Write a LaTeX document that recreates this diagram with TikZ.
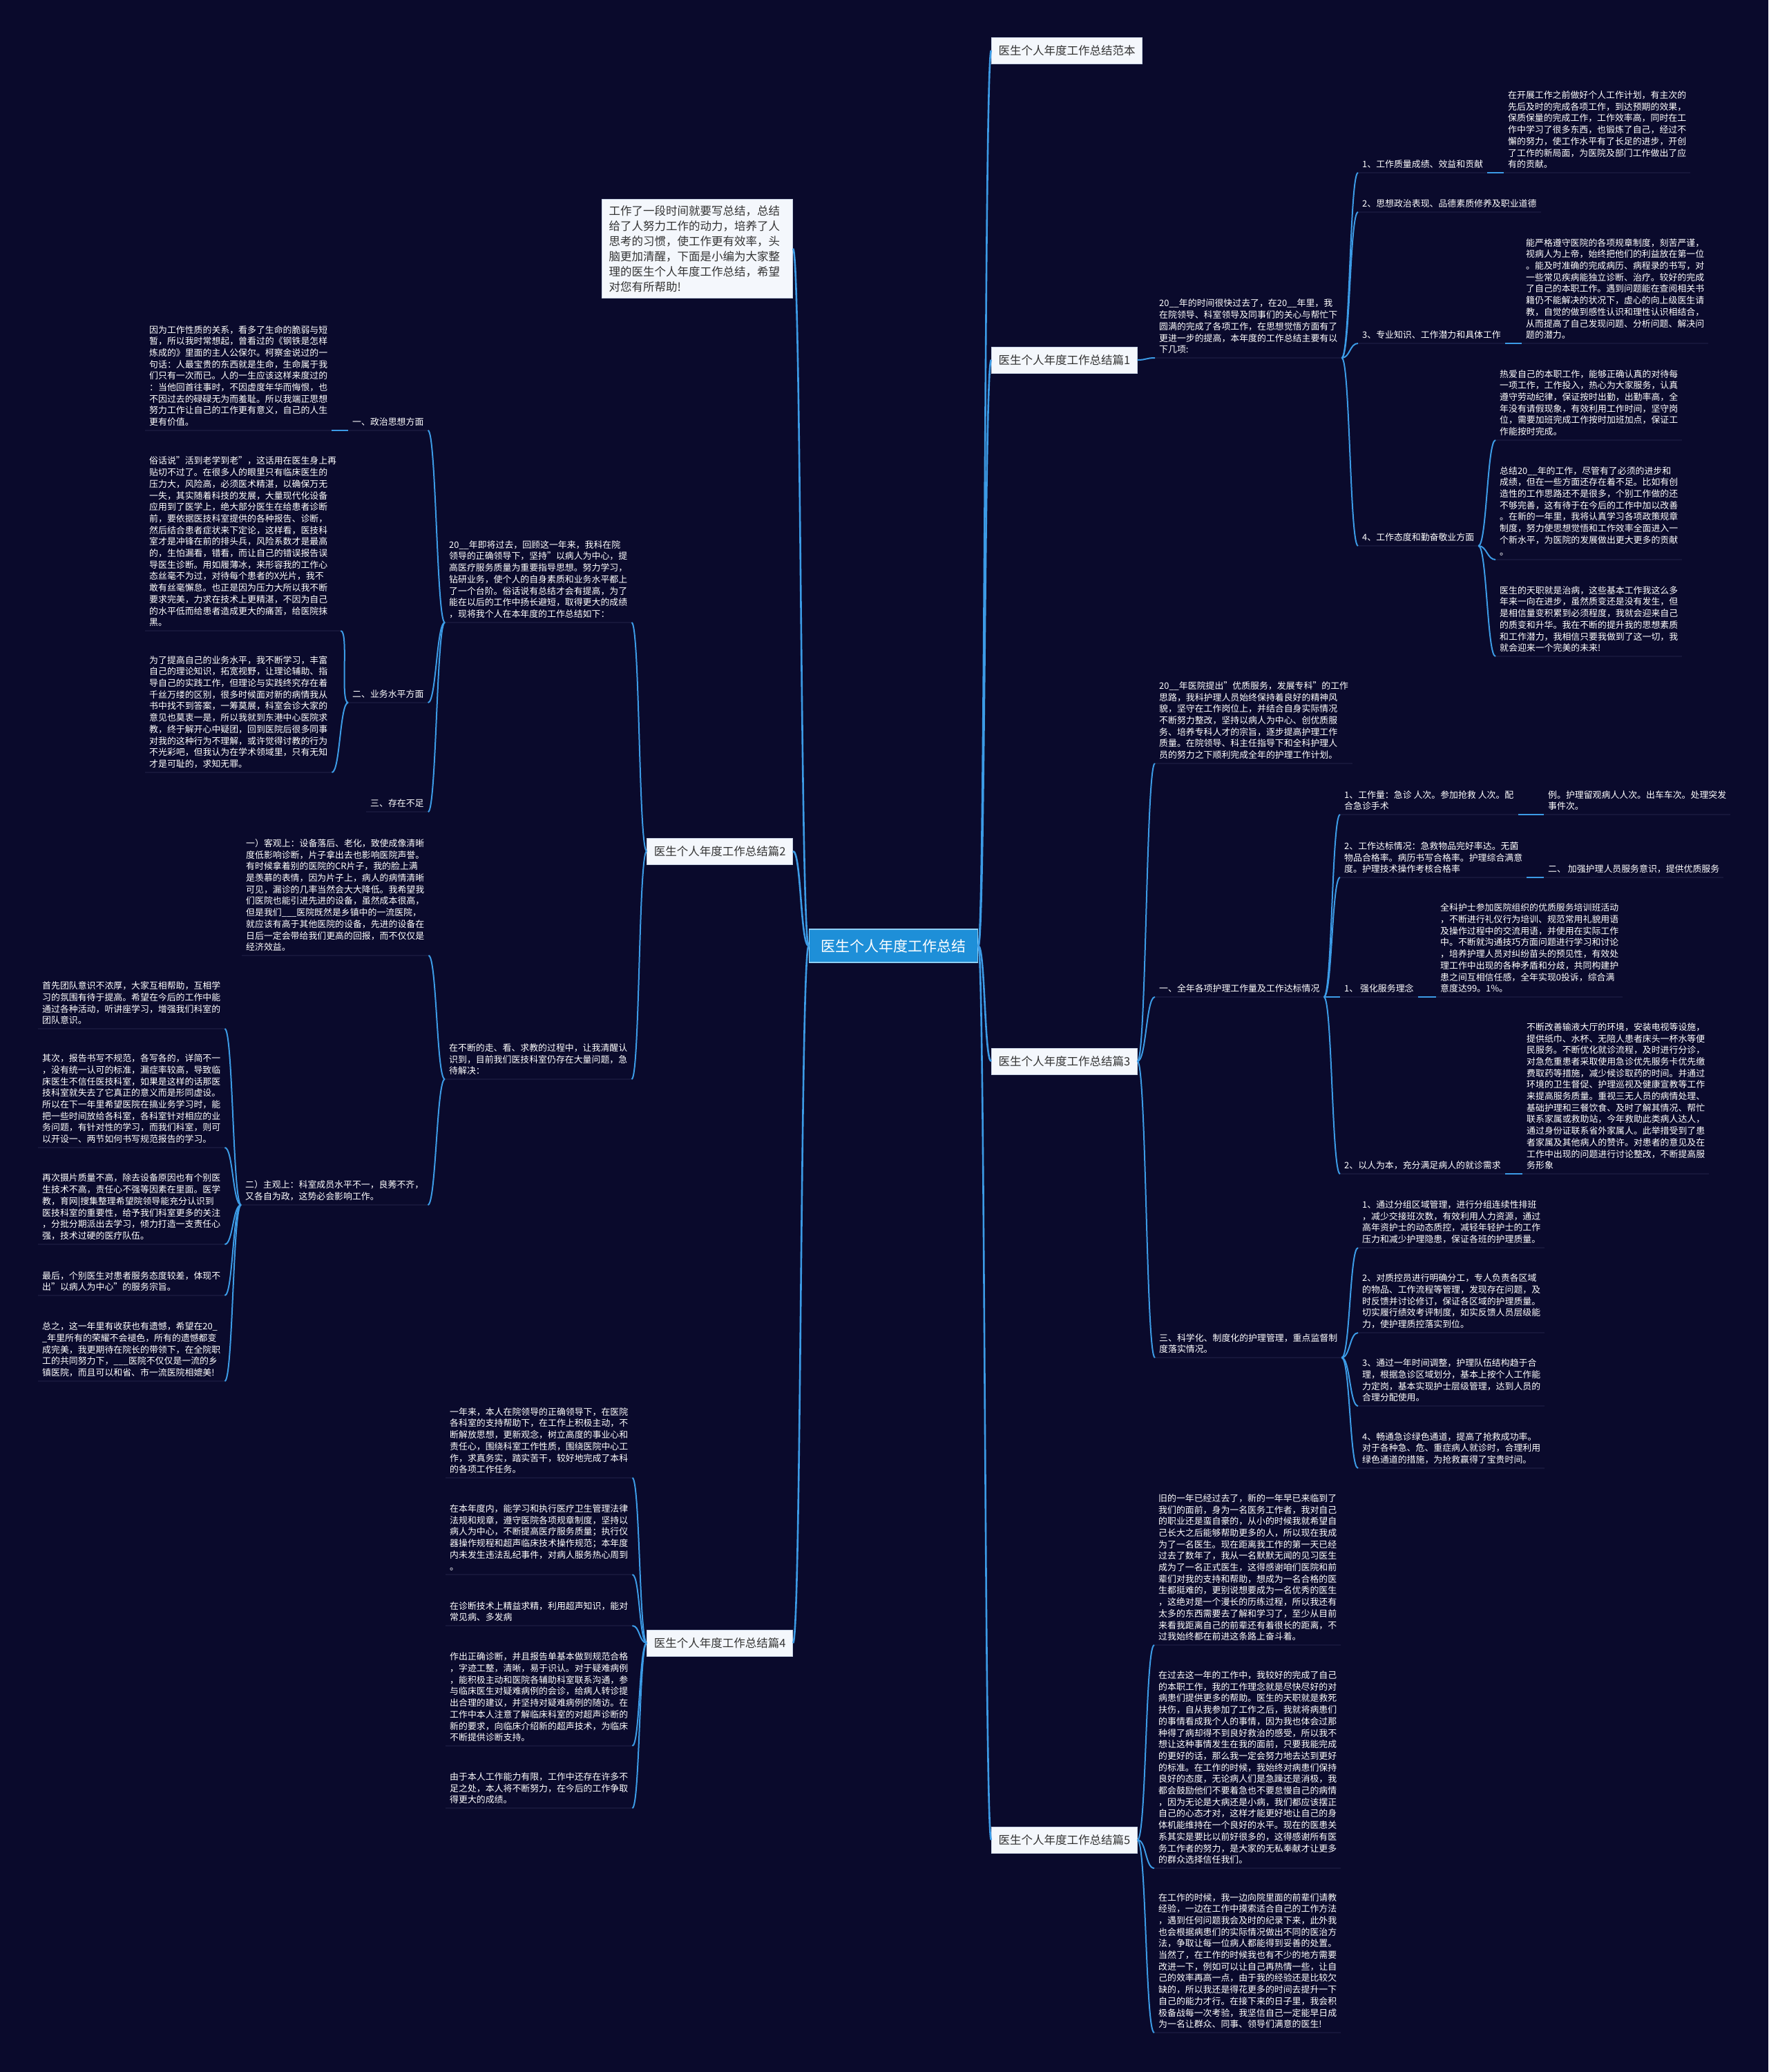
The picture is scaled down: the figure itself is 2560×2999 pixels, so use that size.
\documentclass[tikz,border=0pt]{standalone}
\usepackage{fontspec}
\setmainfont{Noto Sans CJK SC}
\definecolor{bgc}{HTML}{0A0A2C}
\definecolor{lnc}{HTML}{3C9BE6}
\definecolor{ulc}{HTML}{16163A}
\definecolor{boxfill}{HTML}{F4F7FC}
\definecolor{boxline}{HTML}{C8D3E6}
\definecolor{boxtext}{HTML}{333333}
\definecolor{cfill}{HTML}{1E8FD8}
\definecolor{cline}{HTML}{8ECFF5}
\newcommand\fp{\fontsize{12.9pt}{16.7pt}\selectfont}
\newcommand\fb{\fontsize{16.5pt}{22pt}\selectfont}
\newcommand\fc{\fontsize{21pt}{26pt}\selectfont}
\begin{document}
\begin{tikzpicture}[x=1pt,y=-1pt,
  tx/.style={anchor=south west,text=white,font=\fp,align=left,inner xsep=6pt,inner ysep=6pt},
  bx/.style={fill=boxfill,draw=boxline,line width=1pt,text=boxtext,font=\fb,inner xsep=10pt,inner ysep=6pt,minimum height=38pt},
  ibx/.style={fill=boxfill,draw=boxline,line width=1pt,text=boxtext,font=\fb,align=left,text width=256pt,inner xsep=10pt,inner ysep=9pt},
  cbx/.style={fill=cfill,draw=cline,line width=1.5pt,text=white,font=\fc,inner xsep=17pt,inner ysep=6pt,minimum height=48pt},
  conn/.style={draw=lnc,line width=2pt},
  mconn/.style={draw=lnc,line width=2.6pt},
  uline/.style={draw=ulc,line width=2pt}
]
\fill[bgc] (0,0) rectangle (2560,2999);
\useasboundingbox (0,0) rectangle (2560,2999);

% ---------- centre and main branches ----------
\node[cbx] (C) at (1293.5,1369) {医生个人年度工作总结};
\node[bx,anchor=west] (R0) at (1435,73) {医生个人年度工作总结范本};
\node[bx,anchor=west] (R1) at (1435,521) {医生个人年度工作总结篇1};
\node[bx,anchor=west] (R3) at (1435,1536) {医生个人年度工作总结篇3};
\node[bx,anchor=west] (R5) at (1435,2663) {医生个人年度工作总结篇5};
\node[bx,anchor=east] (L2) at (1148,1232) {医生个人年度工作总结篇2};
\node[bx,anchor=east] (L4) at (1148,2378) {医生个人年度工作总结篇4};
\node[ibx,anchor=east] (L0) at (1148,360) {工作了一段时间就要写总结，总结\\给了人努力工作的动力，培养了人\\思考的习惯，使工作更有效率，头\\脑更加清醒，下面是小编为大家整\\理的医生个人年度工作总结，希望\\对您有所帮助!};

% ---------- branch 1 ----------
\node[tx] (R1a) at (1672,518) {20\_\_年的时间很快过去了，在20\_\_年里，我\\在院领导、科室领导及同事们的关心与帮忙下\\圆满的完成了各项工作，在思想觉悟方面有了\\更进一步的提高，本年度的工作总结主要有以\\下几项:};
\node[tx] (I1) at (1966,250) {1、工作质量成绩、效益和贡献};
\node[tx] (I2) at (1966,307) {2、思想政治表现、品德素质修养及职业道德};
\node[tx] (I3) at (1966,497) {3、专业知识、工作潜力和具体工作};
\node[tx] (I4) at (1966,790) {4、工作态度和勤奋敬业方面};
\node[tx] (P1) at (2177,250) {在开展工作之前做好个人工作计划，有主次的\\先后及时的完成各项工作，到达预期的效果，\\保质保量的完成工作，工作效率高，同时在工\\作中学习了很多东西，也锻炼了自己，经过不\\懈的努力，使工作水平有了长足的进步，开创\\了工作的新局面，为医院及部门工作做出了应\\有的贡献。};
\node[tx] (P3) at (2203,497) {能严格遵守医院的各项规章制度，刻苦严谨，\\视病人为上帝，始终把他们的利益放在第一位\\。能及时准确的完成病历、病程录的书写，对\\一些常见疾病能独立诊断、治疗。较好的完成\\了自己的本职工作。遇到问题能在查阅相关书\\籍仍不能解决的状况下，虚心的向上级医生请\\教，自觉的做到感性认识和理性认识相结合，\\从而提高了自己发现问题、分析问题、解决问\\题的潜力。};
\node[tx] (P4a) at (2165,637) {热爱自己的本职工作，能够正确认真的对待每\\一项工作，工作投入，热心为大家服务，认真\\遵守劳动纪律，保证按时出勤，出勤率高，全\\年没有请假现象，有效利用工作时间，坚守岗\\位，需要加班完成工作按时加班加点，保证工\\作能按时完成。};
\node[tx] (P4b) at (2165,810) {总结20\_\_年的工作，尽管有了必须的进步和\\成绩，但在一些方面还存在着不足。比如有创\\造性的工作思路还不是很多，个别工作做的还\\不够完善，这有待于在今后的工作中加以改善\\。在新的一年里，我将认真学习各项政策规章\\制度，努力使思想觉悟和工作效率全面进入一\\个新水平，为医院的发展做出更大更多的贡献\\。};
\node[tx] (P4c) at (2165,950) {医生的天职就是治病，这些基本工作我这么多\\年来一向在进步，虽然质变还是没有发生，但\\是相信量变积累到必须程度，我就会迎来自己\\的质变和升华。我在不断的提升我的思想素质\\和工作潜力，我相信只要我做到了这一切，我\\就会迎来一个完美的未来!};

% ---------- branch 3 ----------
\node[tx] (R3a) at (1672,1105) {20\_\_年医院提出"优质服务，发展专科"的工作\\思路，我科护理人员始终保持着良好的精神风\\貌，坚守在工作岗位上，并结合自身实际情况\\不断努力整改，坚持以病人为中心、创优质服\\务、培养专科人才的宗旨，逐步提高护理工作\\质量。在院领导、科主任指导下和全科护理人\\员的努力之下顺利完成全年的护理工作计划。};
\node[tx] (S1) at (1672,1443) {一、全年各项护理工作量及工作达标情况};
\node[tx] (T1) at (1940,1179) {1、工作量：急诊 人次。参加抢救 人次。配\\合急诊手术};
\node[tx] (T1c) at (2235,1179) {例。护理留观病人人次。出车车次。处理突发\\事件次。};
\node[tx] (T2) at (1940,1270) {2、工作达标情况：急救物品完好率达。无菌\\物品合格率。病历书写合格率。护理综合满意\\度。护理技术操作考核合格率};
\node[tx] (T2c) at (2235,1270) {二、 加强护理人员服务意识，提供优质服务};
\node[tx] (T3) at (1940,1443) {1、 强化服务理念};
\node[tx] (T3c) at (2079,1443) {全科护士参加医院组织的优质服务培训班活动\\，不断进行礼仪行为培训、规范常用礼貌用语\\及操作过程中的交流用语，并使用在实际工作\\中。不断就沟通技巧方面问题进行学习和讨论\\，培养护理人员对纠纷苗头的预见性，有效处\\理工作中出现的各种矛盾和分歧，共同构建护\\患之间互相信任感，全年实现0投诉，综合满\\意度达99。1\%。};
\node[tx] (T4) at (1940,1699) {2、以人为本，充分满足病人的就诊需求};
\node[tx] (T4c) at (2204,1699) {不断改善输液大厅的环境，安装电视等设施，\\提供纸巾、水杯、无陪人患者床头一杯水等便\\民服务。不断优化就诊流程，及时进行分诊，\\对急危重患者采取使用急诊优先服务卡优先缴\\费取药等措施，减少候诊取药的时间。并通过\\环境的卫生督促、护理巡视及健康宣教等工作\\来提高服务质量。重视三无人员的病情处理、\\基础护理和三餐饮食、及时了解其情况、帮忙\\联系家属或救助站，今年救助此类病人达人，\\通过身份证联系省外家属人。此举措受到了患\\者家属及其他病人的赞许。对患者的意见及在\\工作中出现的问题进行讨论整改，不断提高服\\务形象};
\node[tx] (S3) at (1672,1965) {三、科学化、制度化的护理管理，重点监督制\\度落实情况。};
\node[tx] (U1) at (1966,1806) {1、通过分组区域管理，进行分组连续性排班\\，减少交接班次数，有效利用人力资源，通过\\高年资护士的动态质控，减轻年轻护士的工作\\压力和减少护理隐患，保证各班的护理质量。};
\node[tx] (U2) at (1966,1929) {2、对质控员进行明确分工，专人负责各区域\\的物品、工作流程等管理，发现存在问题，及\\时反馈并讨论修订，保证各区域的护理质量。\\切实履行绩效考评制度，如实反馈人员层级能\\力，使护理质控落实到位。};
\node[tx] (U3) at (1966,2035) {3、通过一年时间调整，护理队伍结构趋于合\\理，根据急诊区域划分，基本上按个人工作能\\力定岗，基本实现护士层级管理，达到人员的\\合理分配使用。};
\node[tx] (U4) at (1966,2125) {4、畅通急诊绿色通道，提高了抢救成功率。\\对于各种急、危、重症病人就诊时，合理利用\\绿色通道的措施，为抢救赢得了宝贵时间。};

% ---------- branch 5 ----------
\node[tx] (V1) at (1671,2381) {旧的一年已经过去了，新的一年早已来临到了\\我们的面前，身为一名医务工作者，我对自己\\的职业还是蛮自豪的，从小的时候我就希望自\\己长大之后能够帮助更多的人，所以现在我成\\为了一名医生。现在距离我工作的第一天已经\\过去了数年了，我从一名默默无闻的见习医生\\成为了一名正式医生，这得感谢咱们医院和前\\辈们对我的支持和帮助，想成为一名合格的医\\生都挺难的，更别说想要成为一名优秀的医生\\，这绝对是一个漫长的历练过程，所以我还有\\太多的东西需要去了解和学习了，至少从目前\\来看我距离自己的前辈还有着很长的距离，不\\过我始终都在前进这条路上奋斗着。};
\node[tx] (V2) at (1671,2704) {在过去这一年的工作中，我较好的完成了自己\\的本职工作，我的工作理念就是尽快尽好的对\\病患们提供更多的帮助。医生的天职就是救死\\扶伤，自从我参加了工作之后，我就将病患们\\的事情看成我个人的事情，因为我也体会过那\\种得了病却得不到良好救治的感受，所以我不\\想让这种事情发生在我的面前，只要我能完成\\的更好的话，那么我一定会努力地去达到更好\\的标准。在工作的时候，我始终对病患们保持\\良好的态度，无论病人们是急躁还是消极，我\\都会鼓励他们不要着急也不要怠慢自己的病情\\，因为无论是大病还是小病，我们都应该摆正\\自己的心态才对，这样才能更好地让自己的身\\体机能维持在一个良好的水平。现在的医患关\\系其实是要比以前好很多的，这得感谢所有医\\务工作者的努力，是大家的无私奉献才让更多\\的群众选择信任我们。};
\node[tx] (V3) at (1671,2942) {在工作的时候，我一边向院里面的前辈们请教\\经验，一边在工作中摸索适合自己的工作方法\\，遇到任何问题我会及时的纪录下来，此外我\\也会根据病患们的实际情况做出不同的医治方\\法，争取让每一位病人都能得到妥善的处置。\\当然了，在工作的时候我也有不少的地方需要\\改进一下，例如可以让自己再热情一些，让自\\己的效率再高一点，由于我的经验还是比较欠\\缺的，所以我还是得花更多的时间去提升一下\\自己的能力才行。在接下来的日子里，我会积\\极备战每一次考验，我坚信自己一定能早日成\\为一名让群众、同事、领导们满意的医生!};

% ---------- branch 2 ----------
\node[tx] (L2a) at (644,901) {20\_\_年即将过去，回顾这一年来，我科在院\\领导的正确领导下，坚持"以病人为中心，提\\高医疗服务质量为重要指导思想。努力学习，\\钻研业务，使个人的自身素质和业务水平都上\\了一个台阶。俗话说有总结才会有提高，为了\\能在以后的工作中扬长避短，取得更大的成绩\\，现将我个人在本年度的工作总结如下：};
\node[tx] (La1) at (504,623) {一、政治思想方面};
\node[tx] (La2) at (504,1017) {二、业务水平方面};
\node[tx] (La3) at (530,1175) {三、存在不足};
\node[tx] (A1) at (210,623) {因为工作性质的关系，看多了生命的脆弱与短\\暂，所以我时常想起，曾看过的《钢铁是怎样\\炼成的》里面的主人公保尔。柯察金说过的一\\句话：人最宝贵的东西就是生命，生命属于我\\们只有一次而已。人的一生应该这样来度过的\\：当他回首往事时，不因虚度年华而悔恨，也\\不因过去的碌碌无为而羞耻。所以我端正思想\\努力工作让自己的工作更有意义，自己的人生\\更有价值。};
\node[tx] (A2) at (210,913) {俗话说"活到老学到老"，这话用在医生身上再\\贴切不过了。在很多人的眼里只有临床医生的\\压力大，风险高，必须医术精湛，以确保万无\\一失，其实随着科技的发展，大量现代化设备\\应用到了医学上，绝大部分医生在给患者诊断\\前，要依据医技科室提供的各种报告、诊断，\\然后结合患者症状来下定论，这样看，医技科\\室才是冲锋在前的排头兵，风险系数才是最高\\的，生怕漏看，错看，而让自己的错误报告误\\导医生诊断。用如履薄冰，来形容我的工作心\\态丝毫不为过，对待每个患者的X光片，我不\\敢有丝毫懈怠。也正是因为压力大所以我不断\\要求完美，力求在技术上更精湛，不因为自己\\的水平低而给患者造成更大的痛苦，给医院抹\\黑。};
\node[tx] (B1) at (210,1118) {为了提高自己的业务水平，我不断学习，丰富\\自己的理论知识，拓宽视野，让理论辅助、指\\导自己的实践工作，但理论与实践终究存在着\\千丝万缕的区别，很多时候面对新的病情我从\\书中找不到答案，一筹莫展，科室会诊大家的\\意见也莫衷一是，所以我就到东港中心医院求\\教，终于解开心中疑团，回到医院后很多同事\\对我的这种行为不理解，或许觉得讨教的行为\\不光彩吧，但我认为在学术领域里，只有无知\\才是可耻的，求知无罪。};
\node[tx] (L2b) at (644,1562) {在不断的走、看、求教的过程中，让我清醒认\\识到，目前我们医技科室仍存在大量问题，急\\待解决：};
\node[tx] (K1) at (350,1383) {一）客观上：设备落后、老化，致使成像清晰\\度低影响诊断，片子拿出去也影响医院声誉。\\有时候拿着别的医院的CR片子，我的脸上满\\是羡慕的表情，因为片子上，病人的病情清晰\\可见，漏诊的几率当然会大大降低。我希望我\\们医院也能引进先进的设备，虽然成本很高，\\但是我们\_\_\_医院既然是乡镇中的一流医院，\\就应该有高于其他医院的设备，先进的设备在\\日后一定会带给我们更高的回报，而不仅仅是\\经济效益。};
\node[tx] (K2) at (349,1744) {二）主观上：科室成员水平不一，良莠不齐，\\又各自为政，这势必会影响工作。};
\node[tx] (M1) at (55,1489) {首先团队意识不浓厚，大家互相帮助，互相学\\习的氛围有待于提高。希望在今后的工作中能\\通过各种活动，听讲座学习，增强我们科室的\\团队意识。};
\node[tx] (M2) at (55,1661) {其次，报告书写不规范，各写各的，详简不一\\，没有统一认可的标准，漏症率较高，导致临\\床医生不信任医技科室，如果是这样的话那医\\技科室就失去了它真正的意义而是形同虚设。\\所以在下一年里希望医院在搞业务学习时，能\\把一些时间放给各科室，各科室针对相应的业\\务问题，有针对性的学习，而我们科室，则可\\以开设一、两节如何书写规范报告的学习。};
\node[tx] (M3) at (55,1801) {再次摄片质量不高，除去设备原因也有个别医\\生技术不高，责任心不强等因素在里面。医学\\教，育网|搜集整理希望院领导能充分认识到\\医技科室的重要性，给予我们科室更多的关注\\，分批分期派出去学习，倾力打造一支责任心\\强，技术过硬的医疗队伍。};
\node[tx] (M4) at (55,1875) {最后，个别医生对患者服务态度较差，体现不\\出"以病人为中心"的服务宗旨。};
\node[tx] (M5) at (55,1999) {总之，这一年里有收获也有遗憾，希望在20\_\\\_年里所有的荣耀不会褪色，所有的遗憾都变\\成完美，我更期待在院长的带领下，在全院职\\工的共同努力下，\_\_\_医院不仅仅是一流的乡\\镇医院，而且可以和省、市一流医院相媲美!};

% ---------- branch 4 ----------
\node[tx] (N1) at (645,2139) {一年来，本人在院领导的正确领导下，在医院\\各科室的支持帮助下，在工作上积极主动，不\\断解放思想，更新观念，树立高度的事业心和\\责任心，围绕科室工作性质，围绕医院中心工\\作，求真务实，踏实苦干，较好地完成了本科\\的各项工作任务。};
\node[tx] (N2) at (645,2279) {在本年度内，能学习和执行医疗卫生管理法律\\法规和规章，遵守医院各项规章制度，坚持以\\病人为中心，不断提高医疗服务质量；执行仪\\器操作规程和超声临床技术操作规范；本年度\\内未发生违法乱纪事件，对病人服务热心周到\\。};
\node[tx] (N3) at (645,2353) {在诊断技术上精益求精，利用超声知识，能对\\常见病、多发病};
\node[tx] (N4) at (645,2527) {作出正确诊断，并且报告单基本做到规范合格\\，字迹工整，清晰，易于识认。对于疑难病例\\，能积极主动和医院各辅助科室联系沟通，参\\与临床医生对疑难病例的会诊，给病人转诊提\\出合理的建议，并坚持对疑难病例的随访。在\\工作中本人注意了解临床科室的对超声诊断的\\新的要求，向临床介绍新的超声技术，为临床\\不断提供诊断支持。};
\node[tx] (N5) at (645,2617) {由于本人工作能力有限，工作中还存在许多不\\足之处，本人将不断努力，在今后的工作争取\\得更大的成绩。};

% ---------- underlines ----------
\foreach \n in {R1a,I1,I2,I3,I4,P1,P3,P4a,P4b,P4c,R3a,S1,T1,T1c,T2,T2c,T3,T3c,T4,T4c,S3,U1,U2,U3,U4,V1,V2,V3,L2a,La1,La2,La3,A1,A2,B1,L2b,K1,K2,M1,M2,M3,M4,M5,N1,N2,N3,N4,N5}
  \draw[uline] (\n.south west) -- (\n.south east);

% ---------- connectors ----------
\foreach \n in {R0,R1,R3,R5}
  \draw[mconn] (C.east) .. controls +(10,0) and +(-10,0) .. (\n.west);
\foreach \n in {L0,L2,L4}
  \draw[mconn] (C.west) .. controls +(-12,0) and +(12,0) .. (\n.east);

\draw[conn] (R1.east) .. controls +(13,0) and +(-13,0) .. (R1a.south west);
\foreach \n in {I1,I2,I3,I4}
  \draw[conn] (R1a.south east) .. controls +(12,0) and +(-12,0) .. (\n.south west);
\draw[conn] (I1.south east) .. controls +(12,0) and +(-12,0) .. (P1.south west);
\draw[conn] (I3.south east) .. controls +(12,0) and +(-12,0) .. (P3.south west);
\foreach \n in {P4a,P4b,P4c}
  \draw[conn] (I4.south east) .. controls +(12,0) and +(-12,0) .. (\n.south west);

\foreach \n in {R3a,S1,S3}
  \draw[conn] (R3.east) .. controls +(13,0) and +(-13,0) .. (\n.south west);
\foreach \n in {T1,T2,T3,T4}
  \draw[conn] (S1.south east) .. controls +(12,0) and +(-12,0) .. (\n.south west);
\draw[conn] (T1.south east) .. controls +(12,0) and +(-12,0) .. (T1c.south west);
\draw[conn] (T2.south east) .. controls +(12,0) and +(-12,0) .. (T2c.south west);
\draw[conn] (T3.south east) .. controls +(12,0) and +(-12,0) .. (T3c.south west);
\draw[conn] (T4.south east) .. controls +(12,0) and +(-12,0) .. (T4c.south west);
\foreach \n in {U1,U2,U3,U4}
  \draw[conn] (S3.south east) .. controls +(12,0) and +(-12,0) .. (\n.south west);

\foreach \n in {V1,V2,V3}
  \draw[conn] (R5.east) .. controls +(13,0) and +(-13,0) .. (\n.south west);

\foreach \n in {L2a,L2b}
  \draw[conn] (L2.west) .. controls +(-12,0) and +(12,0) .. (\n.south east);
\foreach \n in {La1,La2,La3}
  \draw[conn] (L2a.south west) .. controls +(-12,0) and +(12,0) .. (\n.south east);
\draw[conn] (La1.south west) .. controls +(-12,0) and +(12,0) .. (A1.south east);
\foreach \n in {A2,B1}
  \draw[conn] (La2.south west) .. controls +(-12,0) and +(12,0) .. (\n.south east);
\foreach \n in {K1,K2}
  \draw[conn] (L2b.south west) .. controls +(-12,0) and +(12,0) .. (\n.south east);
\foreach \n in {M1,M2,M3,M4,M5}
  \draw[conn] (K2.south west) .. controls +(-12,0) and +(12,0) .. (\n.south east);

\foreach \n in {N1,N2,N3,N4,N5}
  \draw[conn] (L4.west) .. controls +(-11,0) and +(11,0) .. (\n.south east);
\end{tikzpicture}
\end{document}
